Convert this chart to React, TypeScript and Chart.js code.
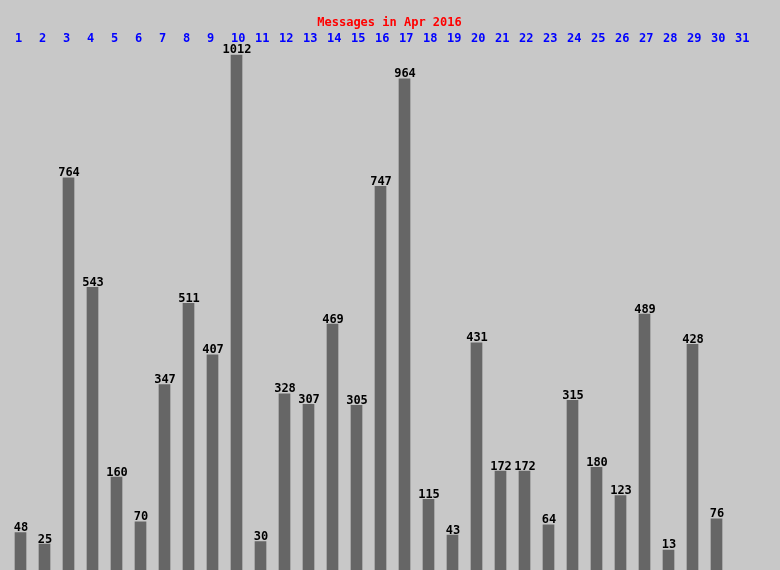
import React, { useEffect, useRef } from "react";
import { Chart, registerables } from "chart.js";

Chart.register(...registerables);

const TITLE = "Messages in Apr 2016";
const DAYS: string[] = Array.from({ length: 31 }, (_, i) => String(i + 1));
const MESSAGES: (number | null)[] = [
  48, 25, 764, 543, 160, 70, 347, 511, 407, 1012,
  30, 328, 307, 469, 305, 747, 964, 115, 43, 431,
  172, 172, 64, 315, 180, 123, 489, 13, 428, 76, null,
];

const BG = "#c8c8c8";
const BAR = "#666666";
const FONT = "bold 12px 'DejaVu Sans Mono', 'Liberation Mono', monospace";
const BASE = -27.4;

const labelsPlugin = {
  id: "msgLabels",
  afterDatasetsDraw(chart: any) {
    const ctx = chart.ctx as CanvasRenderingContext2D;
    const meta = chart.getDatasetMeta(0);
    const xs = chart.scales.x;
    ctx.save();
    ctx.font = FONT;
    // title
    ctx.fillStyle = "#ff0000";
    ctx.textAlign = "center";
    ctx.textBaseline = "alphabetic";
    ctx.fillText(TITLE, 389.5, 26);
    // day labels
    ctx.fillStyle = "#0000ff";
    ctx.textAlign = "left";
    DAYS.forEach((d, i) => {
      const x = xs.getPixelForValue(i) - 5.5;
      ctx.fillText(d, x, 41.5);
    });
    // value labels
    ctx.fillStyle = "#000000";
    ctx.textAlign = "center";
    meta.data.forEach((el: any, i: number) => {
      const v = MESSAGES[i];
      if (v == null) return;
      ctx.fillText(String(v), el.x + 0.5, el.y - 1.5);
    });
    ctx.restore();
  },
};

export default function App() {
  const ref = useRef<HTMLCanvasElement | null>(null);
  useEffect(() => {
    if (!ref.current) return;
    const chart = new Chart(ref.current, {
      type: "bar",
      data: {
        labels: DAYS,
        datasets: [
          {
            data: MESSAGES as any,
            backgroundColor: BAR,
            borderWidth: 0,
            barThickness: 11,
            base: BASE,
          } as any,
        ],
      },
      options: {
        responsive: false,
        animation: false,
        layout: { padding: { left: 8.5, right: 27.5, top: 40, bottom: 0 } },
        plugins: {
          legend: { display: false },
          tooltip: { enabled: false },
          title: { display: false },
        },
        scales: {
          x: { display: false, offset: true, grid: { display: false } },
          y: {
            display: false,
            min: BASE,
            max: BASE + 530 / 0.4955,
            grid: { display: false },
          },
        },
      },
      plugins: [labelsPlugin],
    });
    return () => chart.destroy();
  }, []);
  return (
    <div
      style={{
        position: "absolute",
        left: 0,
        top: 0,
        width: 780,
        height: 570,
        background: BG,
      }}
    >
      <canvas ref={ref} width={780} height={570} style={{ display: "block" }} />
    </div>
  );
}
